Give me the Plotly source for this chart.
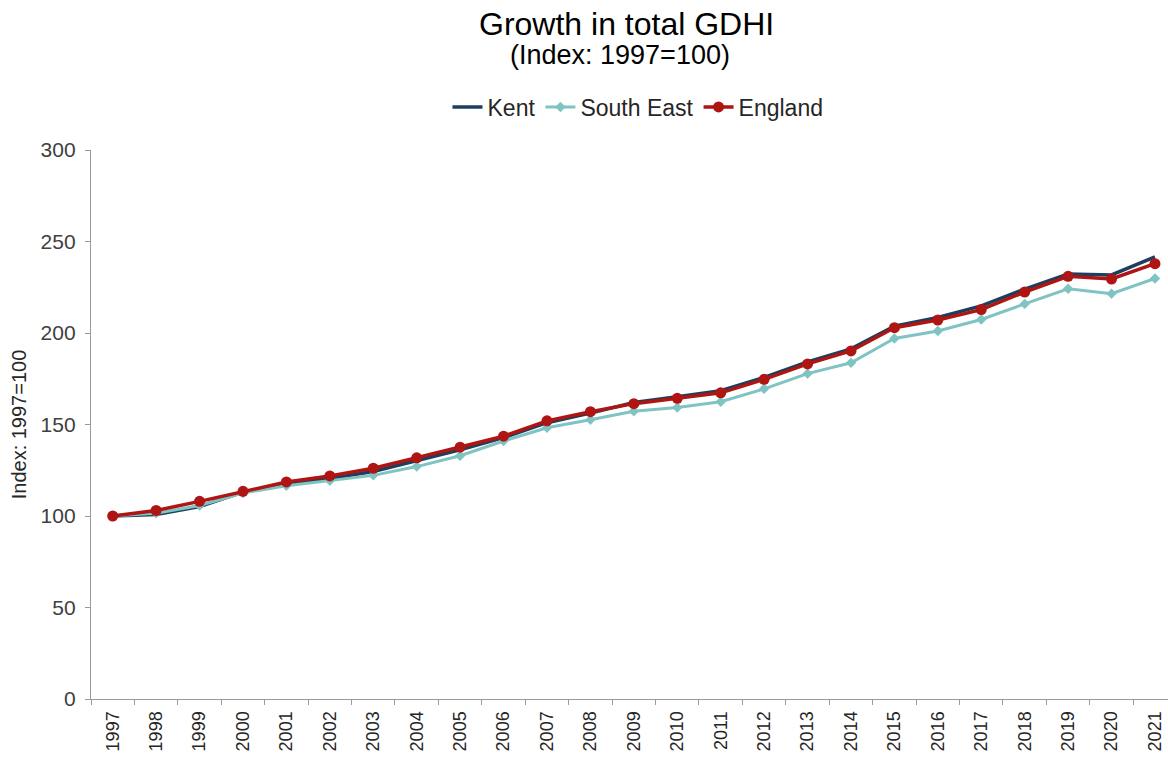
import plotly.graph_objects as go

years = [str(y) for y in range(1997, 2022)]
kent = [100, 100.8, 105.2, 113, 117.2, 120.5, 124.3, 130.2, 136.2, 142.8, 151, 156.2, 162,
        165.2, 168.5, 175.7, 184.2, 191.3, 203.8, 208.5, 214.8, 224, 232.2, 231.7, 241.6]
south_east = [100, 101.5, 105.7, 112.6, 116.5, 119.2, 122.2, 127, 132.9, 141, 148.2, 152.6, 157.2,
              159.3, 162.4, 169.5, 177.8, 183.7, 197, 201.1, 207.4, 215.9, 224.2, 221.5, 229.8]
england = [100, 103, 108, 113.5, 118.6, 121.9, 126.1, 131.8, 137.6, 143.6, 152, 157, 161.4,
           164.3, 167.3, 174.7, 183.1, 190.2, 202.9, 207.1, 212.8, 222.4, 231, 229.5, 237.9]

font = "Liberation Sans, Arial, sans-serif"

L, R, T, B = 91, 0, 150, 61
W, H = 1168, 760
plot_h = H - T - B
plot_w = W - L - R


def px_x(x):
    return (x - L) / plot_w


def px_y(y):
    return (H - B - y) / plot_h


fig = go.Figure()
fig.add_trace(go.Scatter(x=years, y=kent, name="Kent", mode="lines",
                         line=dict(color="#1C3F5E", width=3.5)))
fig.add_trace(go.Scatter(x=years, y=south_east, name="South East", mode="lines+markers",
                         line=dict(color="#7FC4C2", width=3),
                         marker=dict(symbol="diamond", size=8, color="#7FC4C2")))
fig.add_trace(go.Scatter(x=years, y=england, name="England", mode="lines+markers",
                         line=dict(color="#AE1513", width=3.5),
                         marker=dict(symbol="circle", size=11, color="#AE1513")))

fig.update_layout(
    width=W, height=H,
    margin=dict(l=L, r=R, t=T, b=B),
    paper_bgcolor="white", plot_bgcolor="white",
    font=dict(family=font, color="#404040"),
    showlegend=True,
    legend=dict(orientation="h", x=px_x(638), xanchor="center", y=px_y(107), yanchor="middle",
                font=dict(size=23, color="#262626"), itemwidth=30, tracegroupgap=0),
    annotations=[
        dict(text="Growth in total GDHI", x=px_x(626), y=px_y(24), xref="paper", yref="paper",
             xanchor="center", yanchor="middle",
             showarrow=False, font=dict(size=32, color="#000000", family=font)),
        dict(text="(Index: 1997=100)", x=px_x(620), y=px_y(55), xref="paper", yref="paper",
             xanchor="center", yanchor="middle",
             showarrow=False, font=dict(size=27, color="#000000", family=font)),
    ],
)

fig.update_xaxes(type="category", tickson="boundaries", range=[-0.5, 24.3],
                 showline=True, linecolor="#9A9A9A", linewidth=1.3,
                 ticks="outside", ticklen=5, tickcolor="#9A9A9A",
                 ticklabelstandoff=4,
                 tickangle=-90, tickfont=dict(size=18, color="#262626"),
                 showgrid=False, zeroline=False)
fig.update_yaxes(range=[0, 300], tickvals=[0, 50, 100, 150, 200, 250, 300],
                 showline=True, linecolor="#9A9A9A", linewidth=1.3,
                 ticks="outside", ticklen=5, tickcolor="#9A9A9A",
                 ticklabelstandoff=5,
                 tickfont=dict(size=21, color="#404040"), showgrid=False, zeroline=False,
                 title=dict(text="Index: 1997=100", font=dict(size=20, color="#262626"), standoff=8))

fig.write_html("out.html")
